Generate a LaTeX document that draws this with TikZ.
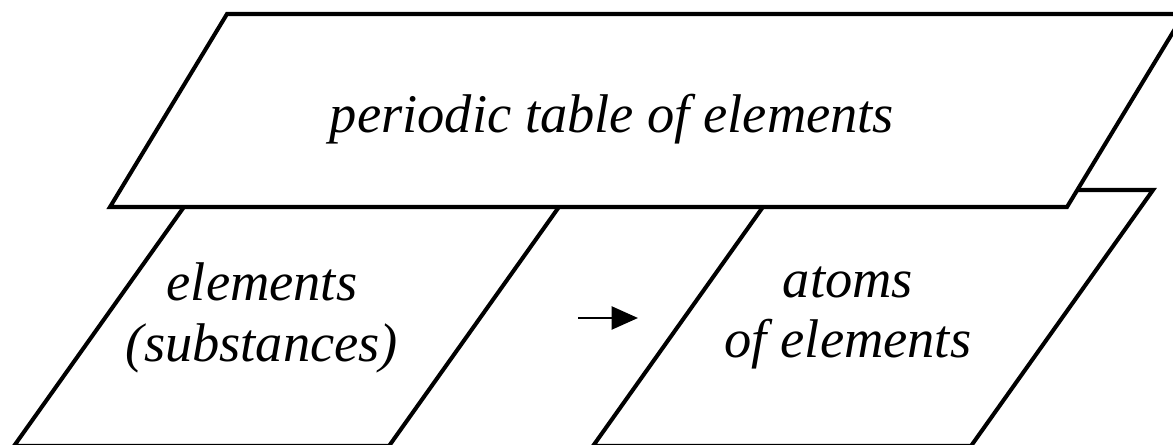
\documentclass[tikz,border=0pt]{standalone}
\usepackage{fontspec}
\newfontfamily\lblfont{LiberationSerif-Italic}[Extension=.ttf]
\usetikzlibrary{arrows.meta}
\begin{document}
\begin{tikzpicture}[x=0.02cm,y=-0.02cm,
  shapebox/.style={draw=black, fill=white, line width=2.3pt, line join=miter},
  lbl/.style={font=\lblfont\fontsize{31}{34.5}\selectfont, align=center, inner sep=0pt},
  flow/.style={line width=1.6pt, -{Triangle[length=15pt,width=13pt]}}]
\useasboundingbox (0,0) rectangle (1173,445);
\clip (0,0) rectangle (1173,445);
% lower parallelograms
\draw[shapebox] (196,190) -- (571,190) -- (389,446) -- (14,446) -- cycle;
\draw[shapebox] (775,190) -- (1153,190) -- (971,446) -- (593,446) -- cycle;
% big parallelogram
\draw[shapebox] (227,14) -- (1184,14) -- (1067,207) -- (110,207) -- cycle;
% texts
\node[lbl, anchor=base] (pt) at (612,133) {periodic table of elements};
\node[lbl] (sub) at (262,318) {elements\\(substances)};
\node[lbl] (atm) at (848,318) {atoms\\of elements};
% arrow
\coordinate (a1) at (578,318);
\coordinate (a2) at (638,318);
\draw[flow] (a1) -- (a2);
\end{tikzpicture}
\end{document}
